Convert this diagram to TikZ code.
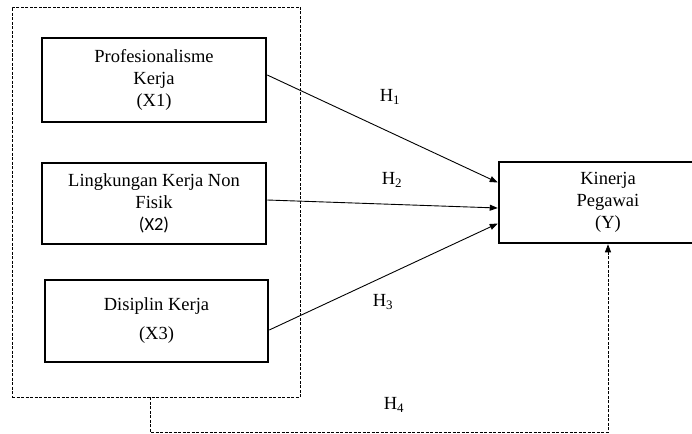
\documentclass[tikz,border=0pt]{standalone}
\usepackage{fontspec}
\setmainfont{Liberation Serif}
\newfontfamily\calibrifont{Carlito}
\usetikzlibrary{arrows.meta,calc}

\tikzset{every picture/.style={line width=0.75pt}}
\tikzset{
  varbox/.style={draw, line width=2.5pt, align=center, inner sep=0pt, font=\fontsize{18.5}{22}\selectfont},
  grpbox/.style={draw, line width=0.8pt, dash pattern=on 3pt off 1.5pt, inner sep=0pt},
  hlabel/.style={inner sep=0.75pt, font=\fontsize{18.5}{22}\selectfont},
  arr/.style={line width=0.9pt, -{Triangle[length=8pt,width=6pt]}}
}

\begin{document}
\begin{tikzpicture}[x=1pt,y=1pt,yscale=-1,xscale=1]
    \useasboundingbox (0,0) rectangle (692,433);
    %Dashed group box
    \node[grpbox, minimum width=288, minimum height=390] (grp) at (156,202) {};
    %Shape: Rectangle
    \node[varbox, minimum width=224, minimum height=84] (x1) at (154,80) {Profesionalisme\\Kerja\\(X1)};
    %Shape: Rectangle
    \node[varbox, minimum width=224, minimum height=81] (x2) at (154,203.5) {Lingkungan Kerja Non\\Fisik\\{\calibrifont (X2)}};
    %Shape: Rectangle
    \node[varbox, minimum width=223, minimum height=82] (x3) at (156.5,321) {Disiplin Kerja\\[7pt](X3)};
    %Shape: Rectangle
    \node[varbox, minimum width=218, minimum height=81] (y) at (608,202.5) {Kinerja\\Pegawai\\(Y)};
    %Straight Lines
    \draw[arr] ($(x1.east)+(0,-5)$) -- ($(y.west)+(0,-20)$);
    %Straight Lines
    \draw[arr] ($(x2.east)+(0,-3.5)$) -- ($(y.west)+(0,5.5)$);
    %Straight Lines
    \draw[arr] ($(x3.east)+(0,9)$) -- ($(y.west)+(0,21)$);
    %Dashed connector
    \draw[line width=0.8pt, dash pattern=on 3pt off 1.5pt, -{Triangle[length=8pt,width=6pt]}] ($(grp.south)+(-6,0)$) -- ++(0,35) -| (y.south);
    % Text Node
    \node[hlabel] (h1) at (390,97) {H\textsubscript{1}};
    % Text Node
    \node[hlabel] (h2) at (392,180) {H\textsubscript{2}};
    % Text Node
    \node[hlabel] (h3) at (383,302) {H\textsubscript{3}};
    % Text Node
    \node[hlabel] (h4) at (394,405) {H\textsubscript{4}};
\end{tikzpicture}
\end{document}
